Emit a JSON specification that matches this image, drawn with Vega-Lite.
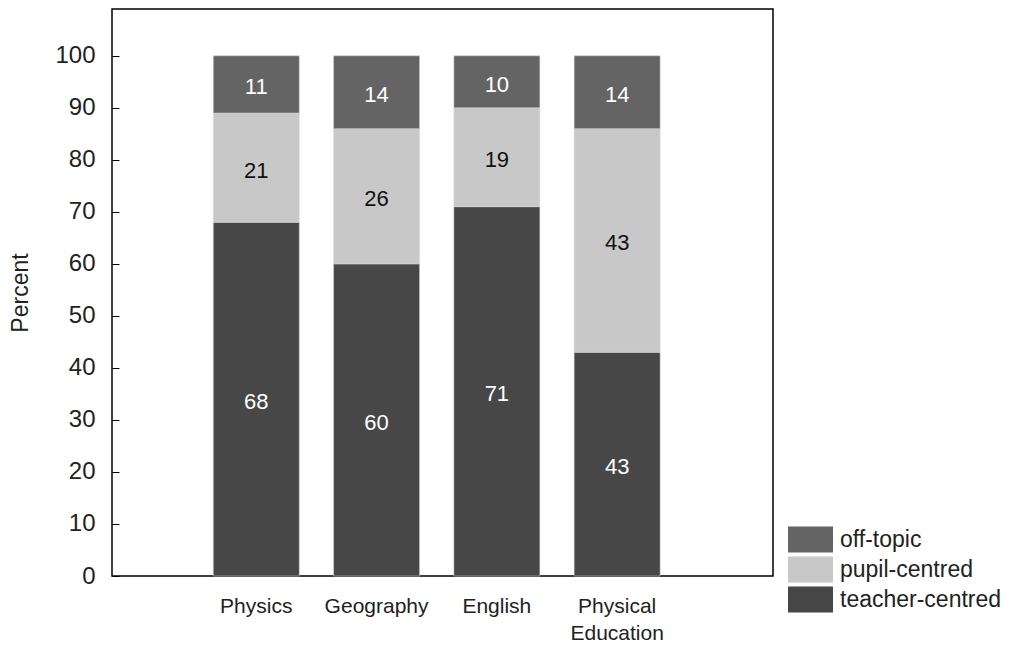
{
  "$schema": "https://vega.github.io/schema/vega-lite/v6.json",
  "width": 661,
  "height": 567,
  "autosize": {"type": "none"},
  "padding": {"left": 112, "top": 9, "right": 244, "bottom": 70},
  "background": "white",
  "config": {
    "font": "Liberation Sans",
    "view": {"stroke": "#000", "strokeWidth": 1.5},
    "axis": {"grid": false, "labelColor": "#222", "titleColor": "#222", "domainColor": "#000", "tickColor": "#000"}
  },
  "data": {
    "values": [
      {"subject": "Physics", "type": "teacher-centred", "pct": 68},
      {"subject": "Physics", "type": "pupil-centred", "pct": 21},
      {"subject": "Physics", "type": "off-topic", "pct": 11},
      {"subject": "Geography", "type": "teacher-centred", "pct": 60},
      {"subject": "Geography", "type": "pupil-centred", "pct": 26},
      {"subject": "Geography", "type": "off-topic", "pct": 14},
      {"subject": "English", "type": "teacher-centred", "pct": 71},
      {"subject": "English", "type": "pupil-centred", "pct": 19},
      {"subject": "English", "type": "off-topic", "pct": 10},
      {"subject": "Physical Education", "type": "teacher-centred", "pct": 43},
      {"subject": "Physical Education", "type": "pupil-centred", "pct": 43},
      {"subject": "Physical Education", "type": "off-topic", "pct": 14}
    ]
  },
  "encoding": {
    "x": {
      "field": "subject",
      "type": "nominal",
      "sort": ["Physics", "Geography", "English", "Physical Education"],
      "scale": {"paddingInner": 0.285, "paddingOuter": 0.89, "align": 0.473},
      "axis": {
        "title": null,
        "labelAngle": 0,
        "ticks": false,
        "domain": false,
        "labelFontSize": 21,
        "labelPadding": 19,
        "labelLineHeight": 27,
        "labelExpr": "datum.label == 'Physical Education' ? ['Physical', 'Education'] : datum.label"
      }
    },
    "y": {
      "field": "pct",
      "type": "quantitative",
      "stack": "zero",
      "scale": {"domain": [0, 109], "nice": false},
      "axis": {
        "title": "Percent",
        "titleFontSize": 23,
        "titleFontWeight": "normal",
        "titlePadding": 22,
        "values": [0, 10, 20, 30, 40, 50, 60, 70, 80, 90, 100],
        "labelFontSize": 24,
        "tickSize": -7,
        "labelPadding": 24,
        "domain": false
      }
    },
    "order": {"field": "type", "sort": "descending"}
  },
  "layer": [
    {
      "mark": {"type": "bar", "stroke": "#d8d8d8", "strokeWidth": 0.5},
      "encoding": {
        "color": {
          "field": "type",
          "type": "nominal",
          "scale": {"domain": ["off-topic", "pupil-centred", "teacher-centred"], "range": ["#646464", "#c8c8c8", "#474747"]},
          "legend": {
            "title": null,
            "orient": "none",
            "legendX": 683.5,
            "legendY": 515.5,
            "symbolType": "M-1.5,-0.87H1.5V0.87H-1.5Z",
            "symbolSize": 900,
            "symbolStrokeWidth": 0,
            "labelFontSize": 23,
            "labelColor": "#222",
            "labelOffset": 14.5,
            "labelLimit": 400,
            "rowPadding": 1
          }
        }
      }
    },
    {
      "mark": {"type": "text", "fontSize": 22, "baseline": "middle", "dy": 3},
      "encoding": {
        "y": {"field": "pct", "type": "quantitative", "stack": "zero", "bandPosition": 0.5},
        "text": {"field": "pct", "type": "quantitative"},
        "color": {"condition": {"test": "datum.type == 'pupil-centred'", "value": "#111"}, "value": "white"}
      }
    }
  ]
}
